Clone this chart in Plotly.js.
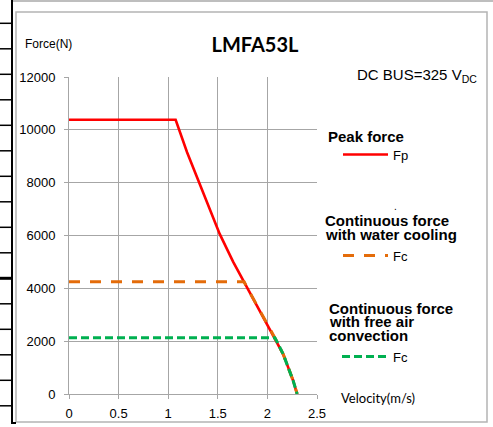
<!DOCTYPE html>
<html>
<head>
<meta charset="utf-8">
<script src="https://cdn.plot.ly/plotly-3.0.1.min.js"></script>
<style>
html,body{margin:0;padding:0;background:#fff;}
#chart{width:493px;height:427px;}
</style>
</head>
<body>
<div id="chart"></div>
<script>
// ---- data ----
const peakVelocity = [0, 1.075, 1.19, 1.31, 1.415, 1.52, 1.655, 1.80, 1.948, 2.094, 2.16, 2.21, 2.26, 2.30];
const peakForce    = [10380, 10380, 9150, 8000, 7000, 6050, 5000, 4000, 3000, 2000, 1500, 1000, 500, 0];

const waterVelocity = [0, 1.765, 1.80, 1.948, 2.075, 2.094, 2.16, 2.21, 2.26, 2.30];
const waterForce    = [4250, 4250, 4000, 3000, 2130, 2000, 1500, 1000, 500, 0];

const airVelocity = [0, 2.075, 2.094, 2.16, 2.21, 2.26, 2.30];
const airForce    = [2130, 2130, 2000, 1500, 1000, 500, 0];

const xTicks = [0, 0.5, 1, 1.5, 2, 2.5];
const xTickLabels = ['0', '0.5', '1', '1.5', '2', '2.5'];
const yTicks = [0, 2000, 4000, 6000, 8000, 10000, 12000];
const yTickLabels = ['0', '2000', '4000', '6000', '8000', '10000', '12000'];

// ---- layout helpers (pixel -> paper) ----
const W = 493, H = 427;
const L = 69, R = 317, T = 77, B = 394;
const px = x => (x - L) / (R - L);
const py = y => (B - y) / (B - T);

const traces = [
  {x: peakVelocity, y: peakForce, mode: 'lines', line: {color: '#ff0000', width: 2.6}, hoverinfo: 'skip'},
  {x: waterVelocity, y: waterForce, mode: 'lines', line: {color: '#e46c0a', width: 3, dash: '11px,10px'}, hoverinfo: 'skip'},
  {x: airVelocity, y: airForce, mode: 'lines', line: {color: '#00b050', width: 3, dash: '8px,4px'}, hoverinfo: 'skip'}
];

const shapes = [];
// chart frame
shapes.push({type: 'rect', xref: 'paper', yref: 'paper', x0: px(16), x1: px(487), y0: py(422), y1: py(12),
  line: {color: '#b4b4b4', width: 1.5}, layer: 'below'});
// top gray line of sheet
shapes.push({type: 'line', xref: 'paper', yref: 'paper', x0: px(12), x1: px(493), y0: py(1), y1: py(1),
  line: {color: '#a8a8a8', width: 1.5}});
// left black line with row ticks
shapes.push({type: 'line', xref: 'paper', yref: 'paper', x0: px(12), x1: px(12), y0: py(424), y1: py(0),
  line: {color: '#000', width: 2}});
shapes.push({type: 'line', xref: 'paper', yref: 'paper', x0: px(12), x1: px(16), y0: py(423), y1: py(423),
  line: {color: '#000', width: 2}});
for (let k = 0; k < 16; k++) {
  const yy = 23.3 + 25.5 * k;
  shapes.push({type: 'line', xref: 'paper', yref: 'paper', x0: px(0), x1: px(12), y0: py(yy), y1: py(yy),
    line: {color: '#000', width: (k === 10 ? 3 : 1.5)}});
}
// legend samples
shapes.push({type: 'line', xref: 'paper', yref: 'paper', x0: px(343), x1: px(388), y0: py(154.5), y1: py(154.5),
  line: {color: '#ff0000', width: 2.6}});
shapes.push({type: 'line', xref: 'paper', yref: 'paper', x0: px(343), x1: px(388), y0: py(255.5), y1: py(255.5),
  line: {color: '#e46c0a', width: 3, dash: '11px,10px'}});
shapes.push({type: 'line', xref: 'paper', yref: 'paper', x0: px(342), x1: px(388), y0: py(356.5), y1: py(356.5),
  line: {color: '#00b050', width: 3, dash: '8px,4px'}});

const arial = 'Liberation Sans, Arial, sans-serif';
const ann = (text, x, y, size, opts) => Object.assign({
  text: text, xref: 'paper', yref: 'paper', x: px(x), y: py(y),
  xanchor: 'left', yanchor: 'middle', showarrow: false,
  font: {family: arial, size: size, color: '#000'}
}, opts || {});

const annotations = [
  ann('Force(N)', 23, 44, 12),
  ann('Velocity(m/s)', 339, 398, 13, {font: {family: 'Lato, sans-serif', size: 13, color: '#000'}}),
  ann('DC BUS=325 V<sub>DC</sub>', 355, 75, 15),
  ann('<b>Peak force</b>', 326, 136.5, 15),
  ann('Fp', 391, 155, 13),
  ann('.', 392, 206, 10),
  ann('<b>Continuous force</b>', 323, 221, 15),
  ann('<b>with water cooling</b>', 323, 234.5, 15),
  ann('Fc', 391, 256, 13),
  ann('<b>Continuous force</b>', 327, 308, 15),
  ann('<b>with free air</b>', 327, 321.5, 15),
  ann('<b>convection</b>', 327, 335.5, 15),
  ann('Fc', 391, 357, 13)
];

const gridColor = '#a6a6a6';
const layout = {
  width: W, height: H,
  margin: {l: L, r: W - R, t: T, b: H - B, pad: 0},
  paper_bgcolor: '#ffffff', plot_bgcolor: '#ffffff',
  showlegend: false,
  title: {text: '<b>LMFA53L</b>', x: 255 / W, xref: 'container', xanchor: 'center',
    y: 1 - 45 / H, yref: 'container', yanchor: 'middle',
    font: {family: 'Lato, sans-serif', size: 20, color: '#000'}},
  xaxis: {
    range: [0, 2.5], tickmode: 'array', tickvals: xTicks, ticktext: xTickLabels,
    showgrid: true, gridcolor: gridColor, gridwidth: 1,
    showline: true, linecolor: gridColor, linewidth: 1,
    ticks: 'outside', ticklen: 4, tickcolor: gridColor, ticklabelstandoff: 3,
    zeroline: false, fixedrange: true,
    tickfont: {family: arial, size: 13, color: '#000'}
  },
  yaxis: {
    range: [0, 12000], tickmode: 'array', tickvals: yTicks, ticktext: yTickLabels,
    showgrid: true, gridcolor: gridColor, gridwidth: 1,
    showline: true, linecolor: gridColor, linewidth: 1,
    ticks: 'outside', ticklen: 4, tickcolor: gridColor, ticklabelstandoff: 6,
    zeroline: false, fixedrange: true,
    tickfont: {family: arial, size: 13, color: '#000'}
  },
  shapes: shapes,
  annotations: annotations
};

Plotly.newPlot('chart', traces, layout, {displayModeBar: false, staticPlot: true});
</script>
</body>
</html>
